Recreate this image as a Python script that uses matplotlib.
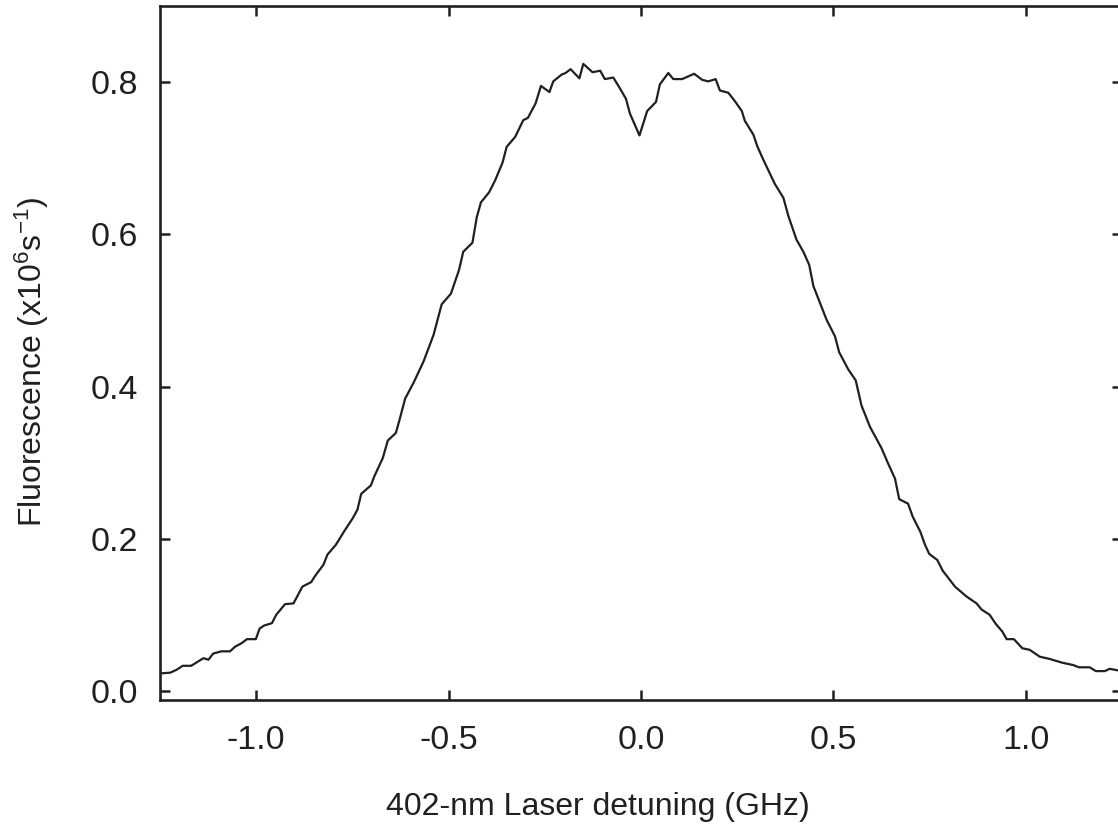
import numpy as np
import matplotlib
matplotlib.use("Agg")
import matplotlib.pyplot as plt

# detuning (GHz) and fluorescence (x10^6 s^-1)
detuning = [
    -1.249, -1.223, -1.206, -1.191, -1.169, -1.137, -1.124, -1.112, -1.091, -1.068,
    -1.055, -1.037, -1.024, -1.001, -0.991, -0.979, -0.959, -0.948, -0.925, -0.903,
    -0.880, -0.857, -0.847, -0.825, -0.815, -0.793, -0.771, -0.749, -0.737, -0.727,
    -0.702, -0.693, -0.671, -0.658, -0.637, -0.626,
    -0.613, -0.591, -0.565, -0.539, -0.518, -0.494, -0.473, -0.462, -0.438, -0.427,
    -0.416, -0.395, -0.379, -0.360, -0.349, -0.327, -0.306, -0.294, -0.274, -0.260,
    -0.238, -0.228,
    -0.206, -0.196, -0.183, -0.160, -0.150, -0.126, -0.106, -0.094, -0.072, -0.055,
    -0.039, -0.029, -0.004, 0.016, 0.039, 0.049, 0.071, 0.084, 0.107, 0.138,
    0.159, 0.175, 0.194, 0.205, 0.227,
    0.244, 0.262, 0.270, 0.292, 0.302, 0.316, 0.333, 0.348, 0.370, 0.383,
    0.404, 0.422, 0.437, 0.448, 0.465, 0.482, 0.504, 0.515, 0.538, 0.558,
    0.573, 0.595, 0.625, 0.642, 0.660, 0.671, 0.694, 0.706, 0.726, 0.738,
    0.749, 0.770, 0.784, 0.816, 0.846, 0.872, 0.885, 0.906, 0.922, 0.939,
    0.950, 0.969, 0.991, 1.010, 1.036, 1.062, 1.095, 1.123, 1.138, 1.166,
    1.182, 1.205, 1.218, 1.239, 1.250,
]
fluorescence = [
    0.023, 0.024, 0.028, 0.033, 0.033, 0.043, 0.041, 0.049, 0.052, 0.052,
    0.058, 0.063, 0.068, 0.068, 0.082, 0.086, 0.089, 0.100, 0.114, 0.115,
    0.137, 0.143, 0.151, 0.166, 0.179, 0.192, 0.210, 0.227, 0.238, 0.259,
    0.270, 0.282, 0.306, 0.329, 0.339, 0.359,
    0.384, 0.405, 0.433, 0.468, 0.508, 0.522, 0.553, 0.577, 0.589, 0.622,
    0.642, 0.655, 0.671, 0.694, 0.715, 0.728, 0.750, 0.753, 0.772, 0.795,
    0.787, 0.801,
    0.810, 0.812, 0.817, 0.805, 0.824, 0.813, 0.815, 0.804, 0.806, 0.792,
    0.778, 0.759, 0.730, 0.762, 0.774, 0.797, 0.812, 0.804, 0.804, 0.811,
    0.803, 0.801, 0.804, 0.789, 0.786,
    0.775, 0.762, 0.749, 0.731, 0.716, 0.700, 0.682, 0.666, 0.648, 0.624,
    0.593, 0.577, 0.560, 0.532, 0.510, 0.488, 0.466, 0.445, 0.423, 0.408,
    0.375, 0.347, 0.319, 0.299, 0.279, 0.252, 0.246, 0.229, 0.209, 0.192,
    0.180, 0.172, 0.158, 0.137, 0.124, 0.115, 0.107, 0.100, 0.088, 0.078,
    0.068, 0.068, 0.056, 0.054, 0.045, 0.042, 0.037, 0.034, 0.031, 0.031,
    0.026, 0.026, 0.029, 0.027, 0.027,
]
xticks = [-1.0, -0.5, 0.0, 0.5, 1.0]
yticks = [0.0, 0.2, 0.4, 0.6, 0.8]

plt.rcParams['font.family'] = ['Liberation Sans', 'DejaVu Sans']
plt.rcParams['mathtext.fontset'] = 'custom'
plt.rcParams['mathtext.rm'] = 'Liberation Sans'
plt.rcParams['mathtext.it'] = 'Liberation Sans:italic'
plt.rcParams['axes.unicode_minus'] = False

ink = '#231f20'

fig = plt.figure(figsize=(11.18, 8.26), dpi=100)
ax = fig.add_axes([0.1431, 0.1525, 0.8605, 0.8402])

ax.plot(detuning, fluorescence, color=ink, linewidth=1.6)

ax.set_xlim(-1.25, 1.25)
ax.set_ylim(-0.012, 0.900)
ax.set_xticks(xticks)
ax.set_yticks(yticks)
ax.set_xticklabels([f'{t:.1f}' for t in xticks])
ax.set_yticklabels([f'{t:.1f}' for t in yticks])

ax.tick_params(direction='in', length=7.5, width=1.8, color=ink,
               top=True, right=True, labelsize=24.5, labelcolor=ink)
ax.tick_params(axis='x', pad=18)
ax.tick_params(axis='y', pad=16)
for s in ax.spines.values():
    s.set_linewidth(1.9)
    s.set_color(ink)

ax.set_xlabel('402-nm Laser detuning (GHz)', fontsize=23, color=ink)
ax.set_ylabel(r'Fluorescence (x10$^{6}$s$^{-1}$)', fontsize=23, color=ink)
ax.xaxis.set_label_coords(0.455, -0.133)
ax.yaxis.set_label_coords(-0.113, 0.487)

fig.savefig('out.png', dpi=100)
plt.close(fig)
